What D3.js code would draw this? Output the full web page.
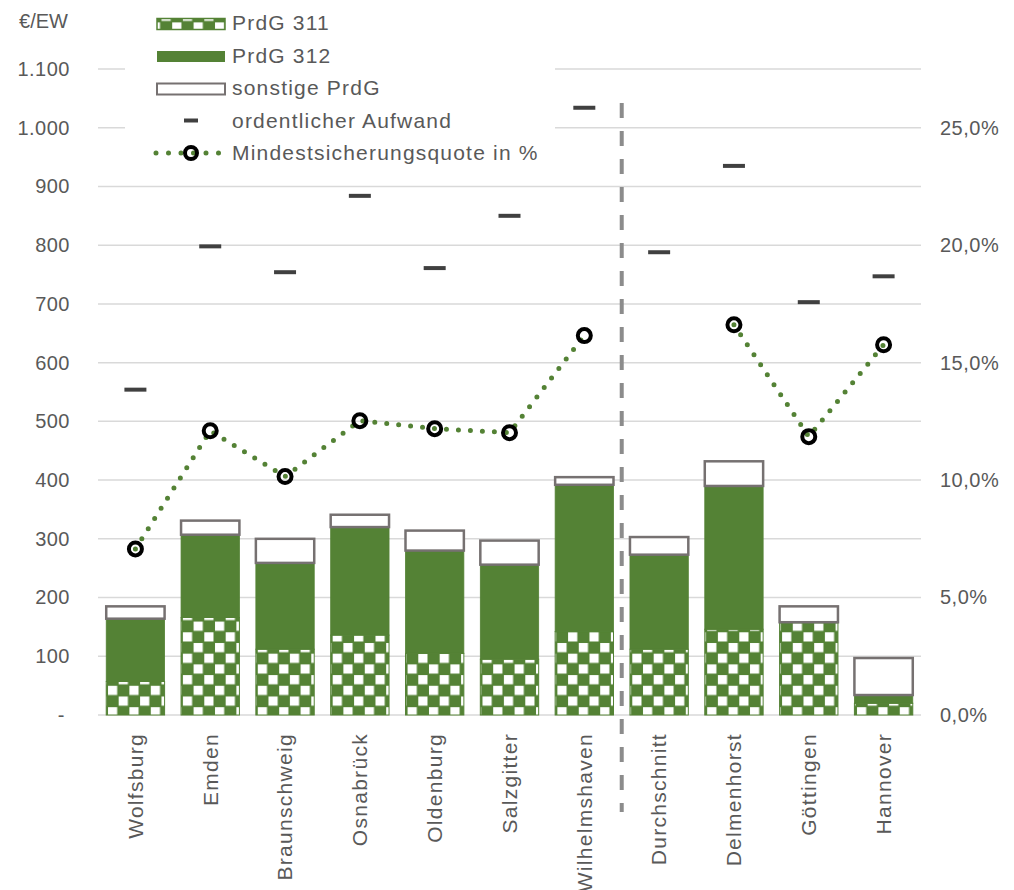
<!DOCTYPE html>
<html><head><meta charset="utf-8">
<script src="https://cdn.jsdelivr.net/npm/d3@7"></script>
<style>
body{margin:0;background:#fff}
svg{display:block;font-family:"Liberation Sans",Arial,sans-serif}
</style>
</head><body>
<svg id="c" width="1014" height="890"></svg>
<script>
// ---- data ----
const categories = ["Wolfsburg","Emden","Braunschweig","Osnabrück","Oldenburg","Salzgitter","Wilhelmshaven","Durchschnitt","Delmenhorst","Göttingen","Hannover"];
const prdg311 = [57, 166, 112, 136, 105, 95, 142, 112, 146, 157, 20];
const prdg312 = [107, 141, 147, 184, 175, 161, 250, 161, 244, 1, 14];
const sonstige = [21, 24, 41, 21, 34, 41, 13, 30, 42, 27, 63];
const aufwand = [554, 798, 754, 884, 761, 850, 1034, 788, 935, 703, 747];
const quote = [7.07, 12.1, 10.15, 12.53, 12.19, 12.02, 16.15, null, 16.61, 11.85, 15.76];
const leftTicks = [0,100,200,300,400,500,600,700,800,900,1000,1100];
const rightTicks = [0,5,10,15,20,25];
const legendLabels = ["PrdG 311","PrdG 312","sonstige PrdG","ordentlicher Aufwand","Mindestsicherungsquote in %"];
const unitLabel = "€/EW";
const separatorAfter = "Wilhelmshaven";

// ---- styles ----
const green = "#548235", grey = "#767171", txt = "#595959", grid = "#d9d9d9";

const svg = d3.select("#c");
const x = d3.scaleBand().domain(categories).range([98, 921]).paddingInner(0.22).paddingOuter(0.11);
const y = d3.scaleLinear().domain([0, 1100]).range([715, 69]);
const y2 = d3.scaleLinear().domain([0, 27.5]).range([715, 69]);

const defs = svg.append("defs");
const pat = defs.append("pattern").attr("id","chk").attr("patternUnits","userSpaceOnUse")
  .attr("width",21.4).attr("height",21.4);
pat.append("rect").attr("width",21.4).attr("height",21.4).attr("fill",green);
pat.append("rect").attr("x",1).attr("y",1).attr("width",9.2).attr("height",9.2).attr("fill","#fff");
pat.append("rect").attr("x",11.7).attr("y",11.7).attr("width",9.2).attr("height",9.2).attr("fill","#fff");

// gridlines
svg.append("g").selectAll("line").data(leftTicks).join("line")
  .attr("x1", 98).attr("x2", 921)
  .attr("y1", d => y(d)).attr("y2", d => y(d))
  .attr("stroke", grid).attr("stroke-width", 1.5);

// left axis
const fmtL = d => d === 0 ? "-" : d3.format(",")(d).replace(/,/g, ".");
const gL = svg.append("g").attr("transform","translate(70,0)")
  .call(d3.axisLeft(y).tickValues(leftTicks).tickFormat(fmtL).tickSize(0).tickPadding(0));
gL.select(".domain").remove();
gL.selectAll("text").attr("font-size", 20).attr("fill", txt).attr("font-family","Liberation Sans, Arial, sans-serif")
  .style("letter-spacing","0.5px").attr("x", d => d === 0 ? -5 : 0);

// right axis
const fmtR = d => d.toFixed(1).replace(".", ",") + "%";
const gR = svg.append("g").attr("transform","translate(940,0)")
  .call(d3.axisRight(y2).tickValues(rightTicks).tickFormat(fmtR).tickSize(0).tickPadding(0));
gR.select(".domain").remove();
gR.selectAll("text").attr("font-size", 20).attr("fill", txt).attr("font-family","Liberation Sans, Arial, sans-serif")
  .style("letter-spacing","0.5px");

// unit label
svg.append("text").attr("x", 68).attr("y", 21).attr("text-anchor","end").attr("dy","0.35em")
  .attr("font-size", 20).attr("fill", txt).text(unitLabel);

// stacked bars
const rows = categories.map((c, i) => ({cat: c, a: prdg311[i], b: prdg312[i], s: sonstige[i]}));
const stack = d3.stack().keys(["a","b","s"])(rows);
const fills = {a: "url(#chk)", b: green, s: "#fff"};
const strokes = {a: green, b: green, s: grey};
const sw = {a: 1, b: 0.8, s: 2.5};
stack.forEach(layer => {
  svg.append("g").selectAll("rect").data(layer).join("rect")
    .attr("x", d => x(d.data.cat))
    .attr("width", x.bandwidth())
    .attr("y", d => y(d[1]))
    .attr("height", d => Math.max(0, y(d[0]) - y(d[1])))
    .attr("fill", fills[layer.key])
    .attr("stroke", strokes[layer.key])
    .attr("stroke-width", sw[layer.key]);
});

// separator dashed line
const sepX = x(separatorAfter) + x.bandwidth() + x.step() * 0.11;
svg.append("line").attr("x1", sepX).attr("x2", sepX).attr("y1", 103).attr("y2", 812)
  .attr("stroke", "#8c8c8c").attr("stroke-width", 4).attr("stroke-dasharray", "15 13");

// ordentlicher Aufwand markers
svg.append("g").selectAll("line").data(aufwand).join("line")
  .attr("x1", (d, i) => x(categories[i]) + x.bandwidth()/2 - 11)
  .attr("x2", (d, i) => x(categories[i]) + x.bandwidth()/2 + 11)
  .attr("y1", d => y(d)).attr("y2", d => y(d))
  .attr("stroke", "#404040").attr("stroke-width", 4);

// quote line
const qd = categories.map((c, i) => ({cat: c, v: quote[i]}));
const line = d3.line().defined(d => d.v != null)
  .x(d => x(d.cat) + x.bandwidth()/2).y(d => y2(d.v));
svg.append("path").datum(qd).attr("d", line).attr("fill","none")
  .attr("stroke", green).attr("stroke-width", 5).attr("stroke-linecap","round").attr("stroke-dasharray","0 12");
svg.append("g").selectAll("circle").data(qd.filter(d => d.v != null)).join("circle")
  .attr("cx", d => x(d.cat) + x.bandwidth()/2).attr("cy", d => y2(d.v))
  .attr("r", 6.5).attr("fill","none").attr("stroke","#000").attr("stroke-width", 4);

// category labels
svg.append("g").selectAll("text").data(categories).join("text")
  .attr("transform", d => `translate(${x(d) + x.bandwidth()/2},733) rotate(-90)`)
  .attr("text-anchor","end").attr("dy","0.35em")
  .attr("font-size", 21).attr("fill", txt).style("letter-spacing","1.3px")
  .text(d => d);

// legend
const lg = svg.append("g");
lg.append("rect").attr("x", 125).attr("y", 3).attr("width", 430).attr("height", 167).attr("fill", "#fff");
const ly = i => 23 + 32.5 * i;
lg.append("rect").attr("x", 157).attr("y", ly(0) - 4.5).attr("width", 68).attr("height", 11)
  .attr("fill","url(#chk)").attr("stroke", green).attr("stroke-width", 1.5);
lg.append("rect").attr("x", 157).attr("y", ly(1) - 4.5).attr("width", 68).attr("height", 11)
  .attr("fill", green);
lg.append("rect").attr("x", 157).attr("y", ly(2) - 4.5).attr("width", 68).attr("height", 11)
  .attr("fill", "#fff").attr("stroke", grey).attr("stroke-width", 2);
lg.append("line").attr("x1", 184).attr("x2", 198).attr("y1", ly(3)).attr("y2", ly(3))
  .attr("stroke", "#404040").attr("stroke-width", 4);
lg.append("line").attr("x1", 156).attr("x2", 224).attr("y1", ly(4)).attr("y2", ly(4))
  .attr("stroke", green).attr("stroke-width", 5).attr("stroke-linecap","round").attr("stroke-dasharray","0 12.5");
lg.append("circle").attr("cx", 191).attr("cy", ly(4)).attr("r", 6).attr("fill","none")
  .attr("stroke","#000").attr("stroke-width", 4);
lg.selectAll("text.l").data(legendLabels).join("text").attr("class","l")
  .attr("x", 232).attr("y", (d, i) => ly(i)).attr("dy","0.35em")
  .attr("font-size", 21).attr("fill", txt).style("letter-spacing","1.2px")
  .text(d => d);
</script>
</body></html>
